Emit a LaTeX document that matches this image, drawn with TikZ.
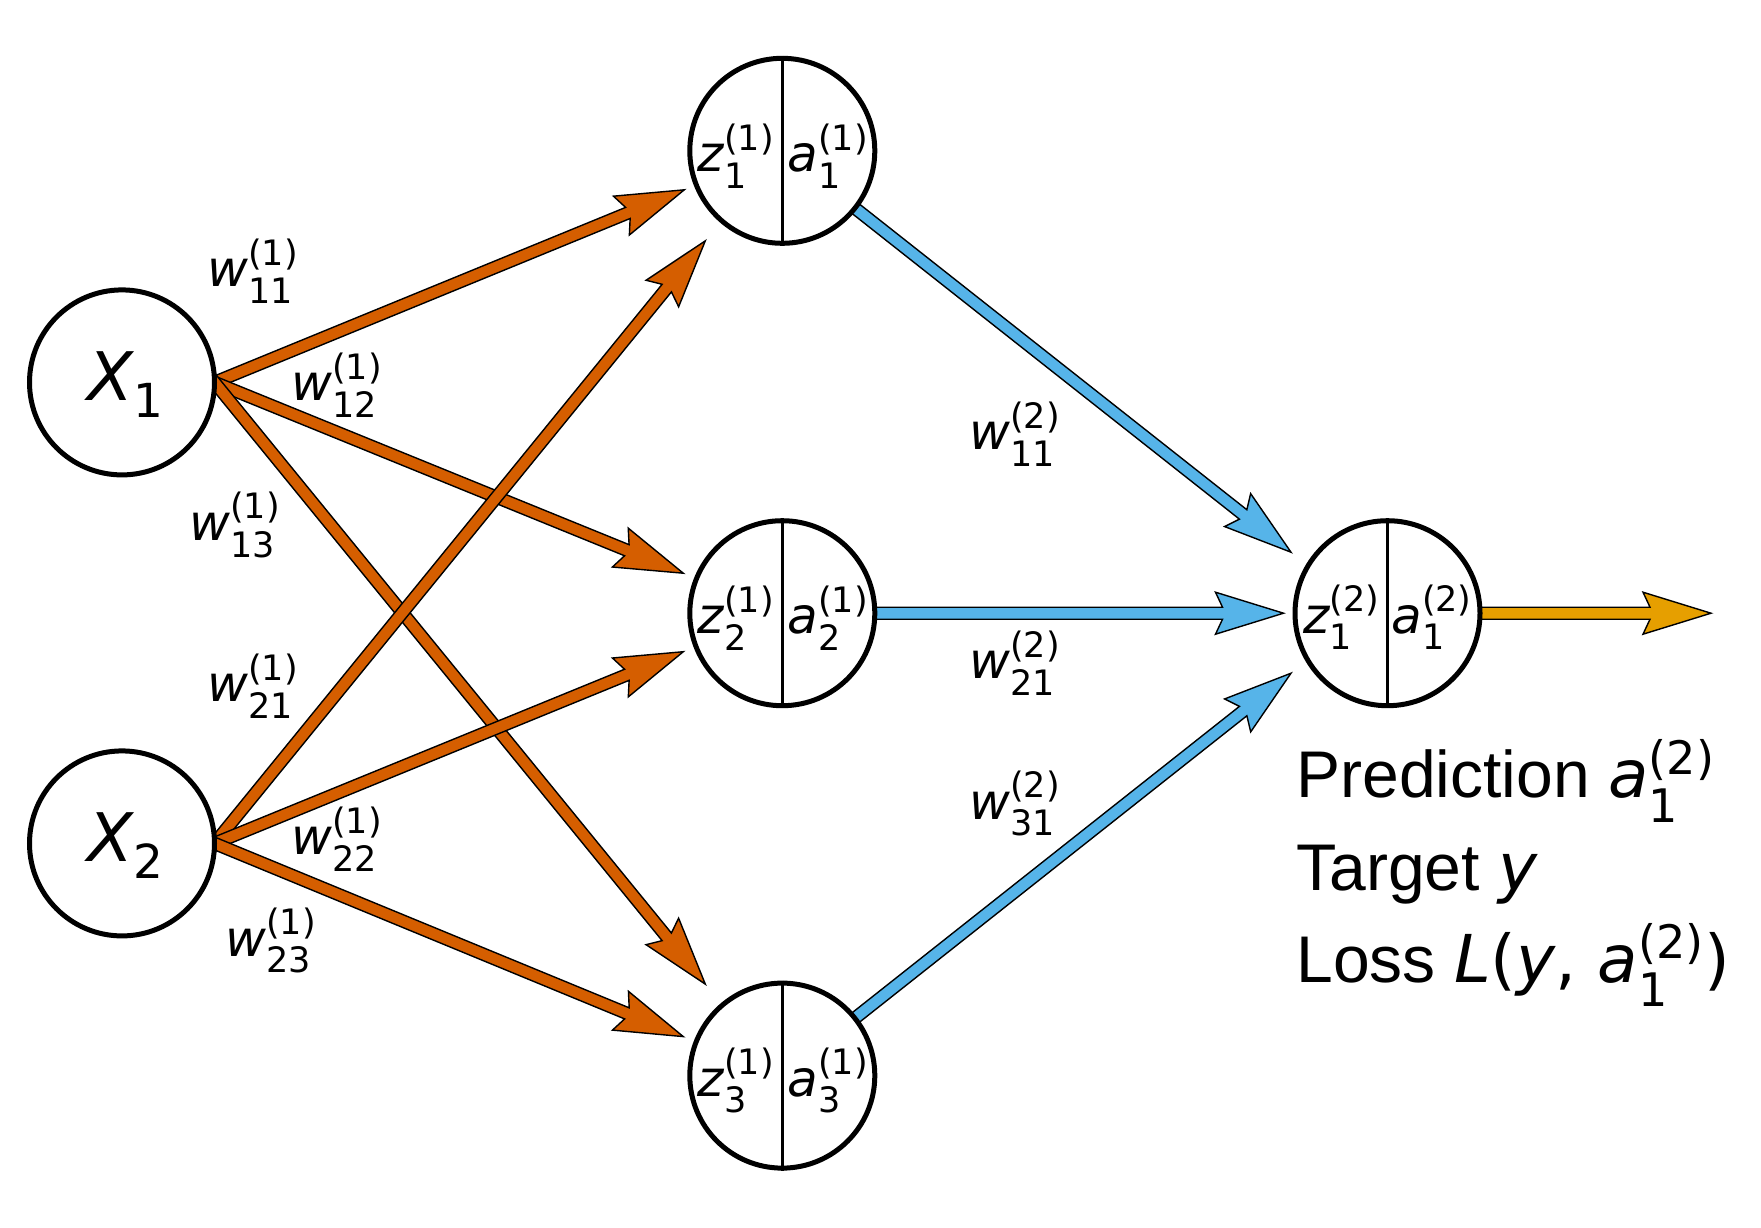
\documentclass[tikz,border=0pt]{standalone}
\usepackage{amsmath}
\usepackage{fontspec}
\setmainfont{DejaVu Sans}
\newfontfamily\dvfont{DejaVu Sans}
\newfontfamily\wordfont{Liberation Sans}
\usetikzlibrary{calc,shapes.geometric}
\definecolor{vermil}{HTML}{D55E00}
\definecolor{skyb}{HTML}{56B4E9}
\definecolor{ambr}{HTML}{E69F00}
\pgfdeclarelayer{bg}
\pgfsetlayers{bg,main}
\newcommand\mv[3]{\ensuremath{\text{\dvfont\itshape #1}^{\text{\dvfont #2}}_{\text{\dvfont #3}}}}
\newcommand\fatarrow[3]{%
  \path ($(#2)!34pt!(#1)$) coordinate (bm) ($(#2)!30.5pt!(#1)$) coordinate (jm)
        ($(#1)!-12pt!(#2)$) coordinate (sb);
  \filldraw[arrowline, fill=#3]
    ($(sb)!3pt!90:(#2)$) -- ($(jm)!3pt!90:(#2)$) -- ($(bm)!10.5pt!90:(#2)$) -- (#2)
    -- ($(bm)!10.5pt!-90:(#2)$) -- ($(jm)!3pt!-90:(#2)$) -- ($(sb)!3pt!-90:(#2)$) -- cycle;}
\begin{document}
\begin{tikzpicture}[x=0.5pt,y=-0.5pt,
  inp/.style={circle, draw=black, line width=2.5pt, fill=white, minimum size=92.5pt, inner sep=0pt},
  hid/.style={circle, draw=black, line width=2.5pt, fill=white, minimum size=92.5pt, inner sep=0pt},
  outn/.style={circle, draw=black, line width=2.5pt, fill=white, minimum size=92.5pt, inner sep=0pt},
  divider/.style={line width=1.35pt},
  arrowline/.style={draw=black, line width=0.7pt, line join=miter},
  wlab/.style={inner sep=0pt, font=\fontsize{25}{30}\selectfont},
  nlab/.style={inner sep=0pt, font=\fontsize{25}{30}\selectfont},
  xlab/.style={inner sep=0pt, font=\fontsize{33.5}{40}\selectfont},
  bigtxt/.style={inner sep=0pt, anchor=base west, font=\fontsize{33}{40}\selectfont\wordfont}]

\useasboundingbox (0,0) rectangle (1761,1227);

% nodes
\node[inp] (X1) at (122,382.4) {};
\node[inp] (X2) at (122,843.4) {};
\node[hid] (h1) at (782.3,150.8) {};
\node[hid] (h2) at (782.3,613.2) {};
\node[hid] (h3) at (782.3,1075.6) {};
\node[outn] (o) at (1387.5,613.2) {};

% arrow start points (right edge of the inputs)
\coordinate (X1e) at ($(X1)+(92.5,0)$);
\coordinate (X2e) at ($(X2)+(92.5,0)$);

% arrow tips
\coordinate (t11) at ($(h1)+(-98,39)$);
\coordinate (t12) at ($(h2)+(-99,-40)$);
\coordinate (t13) at ($(h3)+(-77,-91.5)$);
\coordinate (t21) at ($(h1)+(-77,90)$);
\coordinate (t22) at ($(h2)+(-99,38.5)$);
\coordinate (t23) at ($(h3)+(-99,-39)$);
\coordinate (u1) at ($(o)+(-96.5,-61)$);
\coordinate (u2) at ($(o)+(-104,0)$);
\coordinate (u3) at ($(o)+(-96.5,60)$);
\coordinate (yout) at ($(o)+(323.5,0)$);

\begin{pgfonlayer}{bg}
\fill[white] (0,0) rectangle (1761,1227);
\fatarrow{X1e}{t11}{vermil}
\fatarrow{X1e}{t12}{vermil}
\fatarrow{X1e}{t13}{vermil}
\fatarrow{X2e}{t21}{vermil}
\fatarrow{X2e}{t22}{vermil}
\fatarrow{X2e}{t23}{vermil}
\fatarrow{h1}{u1}{skyb}
\fatarrow{h2}{u2}{skyb}
\fatarrow{h3}{u3}{skyb}
\fatarrow{o}{yout}{ambr}
\end{pgfonlayer}

% dividers
\draw[divider] (h1.north) -- (h1.south);
\draw[divider] (h2.north) -- (h2.south);
\draw[divider] (h3.north) -- (h3.south);
\draw[divider] (o.north) -- (o.south);

% node texts
\node[xlab] (X1t) at ($(X1)+(4,2)$) {\ensuremath{\text{\dvfont\itshape X}_{\text{\dvfont 1}}}};
\node[xlab] (X2t) at ($(X2)+(4,2)$) {\ensuremath{\text{\dvfont\itshape X}_{\text{\dvfont 2}}}};
\node[nlab] (z1) at ($(h1)+(-46,5)$) {\mv{z}{(1)}{1}};
\node[nlab] (a1) at ($(h1)+(46,5)$) {\mv{a}{(1)}{1}};
\node[nlab] (z2) at ($(h2)+(-46,5)$) {\mv{z}{(1)}{2}};
\node[nlab] (a2) at ($(h2)+(46,5)$) {\mv{a}{(1)}{2}};
\node[nlab] (z3) at ($(h3)+(-46,5)$) {\mv{z}{(1)}{3}};
\node[nlab] (a3) at ($(h3)+(46,5)$) {\mv{a}{(1)}{3}};
\node[nlab] (zo) at ($(o)+(-46,4)$) {\mv{z}{(2)}{1}};
\node[nlab] (ao) at ($(o)+(44.5,4)$) {\mv{a}{(2)}{1}};

% weight labels
\node[wlab] (w11) at (253,271) {\mv{w}{(1)}{11}};
\node[wlab] (w12) at (337,385) {\mv{w}{(1)}{12}};
\node[wlab] (w13) at (235,525) {\mv{w}{(1)}{13}};
\node[wlab] (w21) at (253,686) {\mv{w}{(1)}{21}};
\node[wlab] (w22) at (337,839) {\mv{w}{(1)}{22}};
\node[wlab] (w23) at (271,940.6) {\mv{w}{(1)}{23}};
\node[wlab] (v11) at (1015,434) {\mv{w}{(2)}{11}};
\node[wlab] (v21) at (1015,663) {\mv{w}{(2)}{21}};
\node[wlab] (v31) at (1015,803.5) {\mv{w}{(2)}{31}};

% legend text
\node[bigtxt] (pred) at (1296,797.5) {Prediction \mv{a}{(2)}{1}};
\node[bigtxt] (targ) at (1296,890) {Target {\dvfont\itshape y}};
\node[bigtxt] (loss) at (1296,982) {Loss {\dvfont\itshape L\upshape(\itshape y\upshape, }\mv{a}{(2)}{1}{\dvfont )}};
\end{tikzpicture}
\end{document}
